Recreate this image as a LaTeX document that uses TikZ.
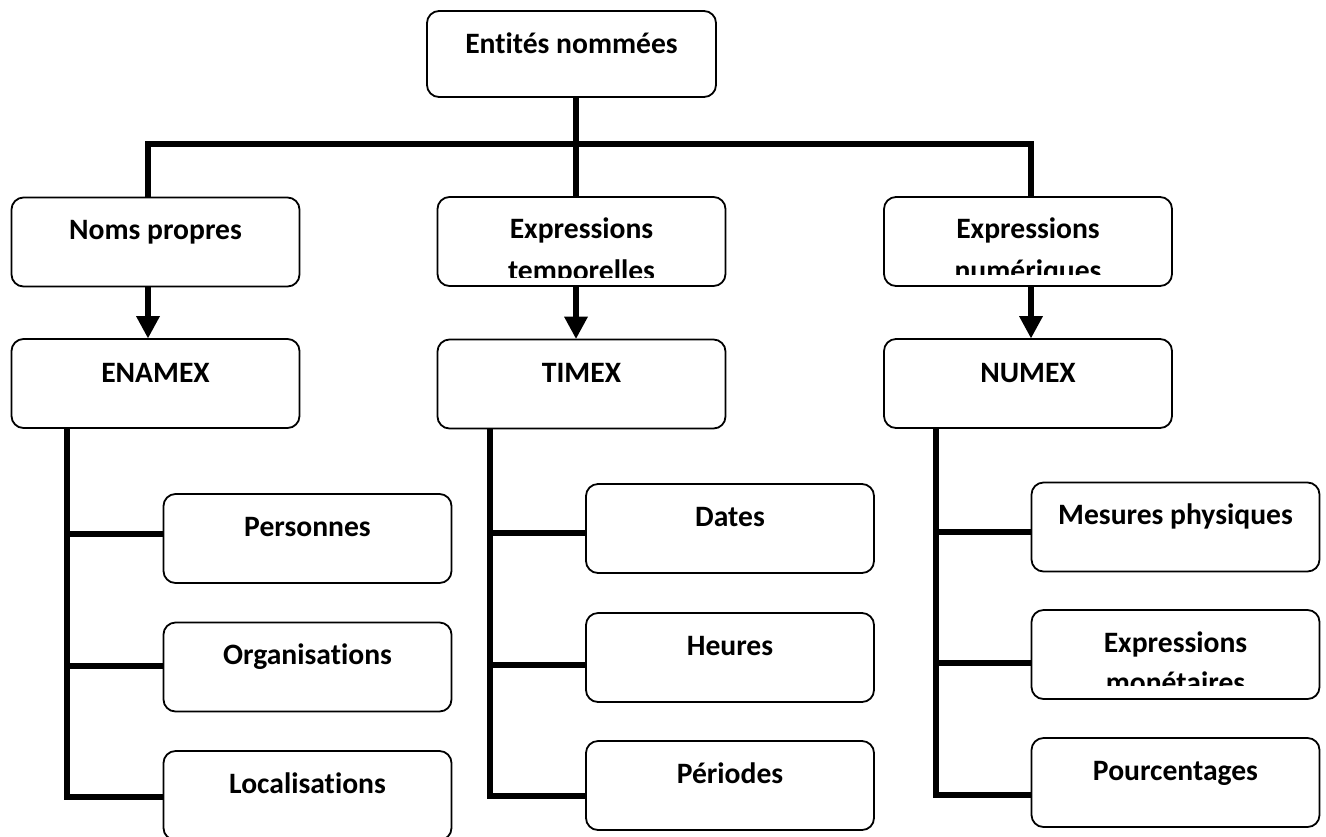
\documentclass[tikz,border=0pt]{standalone}
\usepackage{fontspec}
\setmainfont{Carlito}[Ligatures={NoCommon,NoRare,NoContextual},RawFeature={-liga;-clig;-calt;-dlig}]
\usetikzlibrary{arrows.meta}
\begin{document}
\begin{tikzpicture}[x=0.5pt,y=-0.5pt,
  box/.style={draw, line width=0.9pt, rounded corners=6pt, minimum width=144pt, minimum height=44.5pt, inner sep=0pt},
  txt/.style={font=\bfseries\fontsize{14.8pt}{17pt}\selectfont, inner sep=0pt, anchor=base},
  conn/.style={line width=3.4pt, line join=miter},
  arr/.style={conn, -{Triangle[width=12pt,length=11pt,line width=0pt]}}]
\useasboundingbox (0,0) rectangle (1326,836);
\clip (0,0) rectangle (1326,836);

% ---- boxes
\node[box, minimum width=144.5pt, minimum height=43pt] (root) at (571.5,54) {};
\node[box] (np) at (155.5,242) {};
\node[box] (et) at (581.5,241.5) {};
\node[box] (en) at (1028,241.5) {};
\node[box] (enamex) at (155.5,383.5) {};
\node[box] (timex) at (581.5,384) {};
\node[box] (numex) at (1028,383.5) {};
\node[box] (pers) at (307.5,538.5) {};
\node[box] (orga) at (307.5,667) {};
\node[box] (loca) at (307.5,795.5) {};
\node[box] (dates) at (730,528.5) {};
\node[box] (heures) at (730,657.5) {};
\node[box] (periodes) at (730,785.5) {};
\node[box] (mesures) at (1175.5,527) {};
\node[box] (monet) at (1175.5,654.5) {};
\node[box] (pourc) at (1175.5,782.5) {};

% ---- texts
\node[txt] (root-t) at (571.5,53) {Entités nommées};
\node[txt] (np-t) at (155.5,239) {Noms propres};
\begin{scope}
  \clip (439,199) rectangle (724,277);
  \node[txt] (et-a) at (581.5,238) {Expressions};
  \node[txt] (et-b) at (581.5,280) {temporelles};
\end{scope}
\begin{scope}
  \clip (886,199) rectangle (1170,274);
  \node[txt] (en-a) at (1028,238) {Expressions};
  \node[txt] (en-b) at (1028,280) {numériques};
\end{scope}
\node[txt] (enamex-t) at (155.5,382) {ENAMEX};
\node[txt] (timex-t) at (581.5,382) {TIMEX};
\node[txt] (numex-t) at (1028,382) {NUMEX};
\node[txt] (pers-t) at (307.5,536) {Personnes};
\node[txt] (orga-t) at (307.5,664) {Organisations};
\node[txt] (loca-t) at (307.5,793) {Localisations};
\node[txt] (dates-t) at (730,526) {Dates};
\node[txt] (heures-t) at (730,655) {Heures};
\node[txt] (periodes-t) at (730,783) {Périodes};
\node[txt] (mesures-t) at (1175.5,524) {Mesures physiques};
\begin{scope}
  \clip (1034,612) rectangle (1317,685);
  \node[txt] (monet-a) at (1175.5,652) {Expressions};
  \node[txt] (monet-b) at (1175.5,692) {monétaires};
\end{scope}
\node[txt] (pourc-t) at (1175.5,780) {Pourcentages};

% ---- top connectors
\coordinate (d1) at (148,144);
\coordinate (d2) at (576,144);
\coordinate (d3) at (1031,144);
\draw[conn] (root.south -| d2) -- (et.north -| d2);
\draw[conn] (np.north -| d1) -- (d1) -- (d3) -- (en.north -| d3);

% ---- arrows
\draw[arr] (np.south -| d1) -- (enamex.north -| d1);
\draw[arr] (et.south -| d2) -- (timex.north -| d2);
\draw[arr] (en.south -| d3) -- (numex.north -| d3);

% ---- trunks and branches
\coordinate (b11) at (67,534);
\coordinate (b12) at (67,666);
\coordinate (b13) at (67,797);
\draw[conn] (enamex.south -| b13) -- (b13) -- (b13 -| loca.west);
\draw[conn] (b11) -- (b11 -| pers.west);
\draw[conn] (b12) -- (b12 -| orga.west);

\coordinate (b21) at (490,533);
\coordinate (b22) at (490,665);
\coordinate (b23) at (490,796);
\draw[conn] (timex.south -| b23) -- (b23) -- (b23 -| periodes.west);
\draw[conn] (b21) -- (b21 -| dates.west);
\draw[conn] (b22) -- (b22 -| heures.west);

\coordinate (b31) at (936,532);
\coordinate (b32) at (936,663);
\coordinate (b33) at (936,795);
\draw[conn] (numex.south -| b33) -- (b33) -- (b33 -| pourc.west);
\draw[conn] (b31) -- (b31 -| mesures.west);
\draw[conn] (b32) -- (b32 -| monet.west);
\end{tikzpicture}
\end{document}
